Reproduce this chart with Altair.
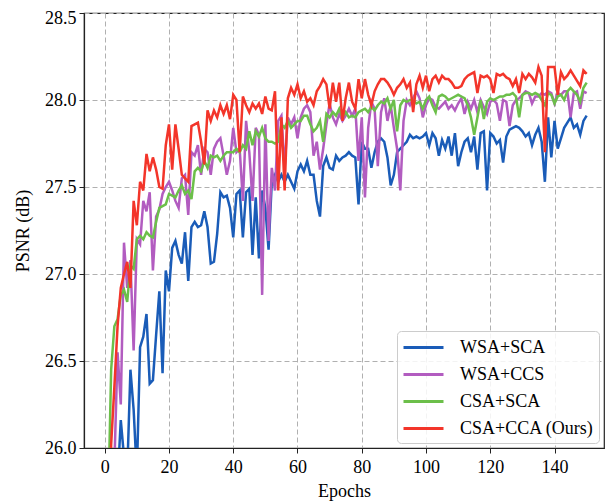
import altair as alt
import pandas as pd

epochs = list(range(1, 151))

series_names = ["WSA+SCA", "WSA+CCS", "CSA+SCA", "CSA+CCA (Ours)"]
series_colors = ["#1a5cb8", "#b25cc0", "#6cbf4a", "#f3352a"]

wsa_sca = [
    25.40, 25.55, 25.70, 25.80, 26.16, 25.95, 25.85, 26.45, 26.22, 25.85,
    26.58, 26.64, 26.77, 26.37, 26.39, 26.65, 26.90, 26.43, 27.02, 26.90,
    27.15, 27.19, 27.11, 27.06, 27.24, 26.96, 27.27, 27.30, 27.27, 27.28,
    27.36, 27.27, 27.06, 27.07, 27.23, 27.47, 27.44, 27.45, 27.38, 27.21,
    27.46, 27.48, 27.21, 27.47, 27.49, 27.11, 27.44, 27.09, 27.48, 27.38,
    27.14, 27.53, 27.57, 27.53, 27.57, 27.53, 27.57, 27.53, 27.49, 27.59,
    27.63, 27.59, 27.65, 27.57, 27.57, 27.42, 27.33, 27.62, 27.67, 27.61,
    27.60, 27.68, 27.65, 27.67, 27.68, 27.70, 27.68, 27.67, 27.40, 27.76,
    27.72, 27.72, 27.61, 27.70, 27.76, 27.78, 27.76, 27.67, 27.51, 27.57,
    27.70, 27.72, 27.74, 27.76, 27.80, 27.78, 27.79, 27.78, 27.79, 27.81,
    27.74, 27.81, 27.78, 27.68, 27.77, 27.72, 27.79, 27.68, 27.81, 27.62,
    27.70, 27.76, 27.78, 27.70, 27.79, 27.60, 27.81, 27.82, 27.48, 27.81,
    27.79, 27.75, 27.77, 27.64, 27.79, 27.83, 27.84, 27.85, 27.84, 27.82,
    27.79, 27.81, 27.74, 27.80, 27.84, 27.76, 27.53, 27.90, 27.67, 27.88,
    27.72, 27.78, 27.84, 27.87, 27.90, 27.84, 27.86, 27.80, 27.88, 27.91,
]

wsa_ccs = [
    25.30, 25.60, 25.90, 26.55, 26.25, 27.18, 26.92, 27.08, 26.56, 27.20,
    27.17, 27.42, 27.36, 27.47, 27.02, 27.33, 27.37, 27.46, 27.50, 27.53,
    27.48, 27.42, 27.38, 27.55, 27.57, 27.34, 27.70, 27.68, 27.74, 27.57,
    27.72, 27.70, 27.57, 27.72, 27.76, 27.78, 27.68, 27.57, 27.65, 27.84,
    27.70, 27.72, 27.42, 27.88, 27.70, 27.42, 27.84, 27.80, 26.88, 27.86,
    27.19, 27.61, 27.48, 27.88, 27.91, 27.61, 27.90, 27.86, 27.90, 27.78,
    27.90, 27.95, 27.97, 27.93, 27.68, 27.76, 27.60, 27.72, 27.86, 27.98,
    27.90, 27.86, 27.92, 27.88, 27.91, 27.95, 27.91, 27.95, 27.65, 27.90,
    27.44, 27.84, 27.99, 27.95, 27.62, 27.93, 28.01, 27.88, 27.97, 27.84,
    27.72, 27.48, 27.88, 28.00, 27.97, 28.01, 28.05, 28.01, 27.90, 27.97,
    28.01, 28.00, 27.96, 27.95, 27.97, 27.99, 27.95, 27.97, 27.94, 27.98,
    28.01, 27.92, 27.99, 27.95, 28.00, 27.93, 28.00, 27.96, 27.92, 27.99,
    28.00, 27.98, 27.88, 28.00, 27.99, 27.85, 27.97, 28.00, 28.01, 28.03,
    28.05, 28.04, 27.98, 28.02, 28.02, 28.04, 28.03, 28.05, 28.04, 27.98,
    28.04, 28.03, 28.05, 28.05, 27.90, 28.04, 28.05, 27.95, 28.05, 28.04,
]

csa_sca = [
    25.60, 26.45, 26.70, 26.74, 26.88, 26.91, 26.84, 27.05, 27.03, 27.20,
    27.22, 27.20, 27.24, 27.22, 27.21, 27.30, 27.38, 27.39, 27.40, 27.46,
    27.45, 27.44, 27.48, 27.51, 27.46, 27.48, 27.43, 27.59, 27.61, 27.59,
    27.65, 27.61, 27.68, 27.67, 27.68, 27.65, 27.68, 27.70, 27.70, 27.70,
    27.72, 27.70, 27.74, 27.72, 27.82, 27.74, 27.82, 27.79, 27.84, 27.78,
    27.76, 27.76, 27.75, 27.76, 27.86, 27.84, 27.88, 27.84, 27.86, 27.88,
    27.88, 27.91, 27.91, 27.86, 27.82, 27.84, 27.88, 27.76, 27.92, 27.90,
    27.93, 27.91, 27.95, 27.90, 27.93, 27.90, 27.91, 27.90, 27.93, 27.94,
    27.95, 27.93, 27.96, 27.94, 27.97, 27.99, 27.98, 28.01, 27.95, 28.00,
    27.82, 27.97, 28.00, 27.99, 28.00, 28.00, 27.98, 27.99, 27.95, 28.00,
    28.02, 27.97, 27.93, 28.02, 28.03, 28.02, 28.00, 28.01, 28.02, 28.03,
    28.02, 28.01, 27.97, 27.90, 27.80, 27.90, 28.00, 27.89, 27.99, 28.01,
    28.00, 28.01, 28.02, 28.02, 28.03, 28.03, 28.04, 28.02, 27.90, 28.03,
    28.04, 28.04, 28.03, 28.04, 28.03, 28.00, 27.97, 28.04, 28.03, 27.98,
    28.02, 28.03, 28.00, 28.05, 28.07, 28.05, 28.03, 27.99, 28.07, 28.10,
]

csa_cca = [
    25.30, 26.02, 26.35, 26.70, 26.92, 27.00, 27.07, 26.92, 27.42, 27.28,
    27.53, 27.48, 27.69, 27.59, 27.67, 27.60, 27.50, 27.49, 27.74, 27.86,
    27.60, 27.86, 27.72, 27.57, 27.55, 27.53, 27.85, 27.86, 27.87, 27.76,
    27.63, 27.94, 27.88, 27.94, 27.90, 27.97, 27.92, 27.97, 27.89, 28.03,
    28.00, 27.70, 28.02, 27.97, 27.93, 27.98, 27.95, 27.98, 27.92, 28.02,
    27.95, 27.94, 28.05, 27.48, 27.90, 27.48, 28.01, 28.07, 28.03, 28.09,
    28.01, 28.05, 27.99, 28.01, 27.97, 28.05, 28.08, 28.12, 28.09, 27.95,
    28.10, 27.99, 28.10, 27.88, 28.01, 28.10, 27.99, 27.95, 28.12, 28.01,
    28.12, 28.03, 27.97, 28.05, 28.09, 28.12, 28.12, 28.10, 28.07, 28.03,
    28.07, 28.09, 28.12, 28.07, 28.10, 27.93, 28.09, 28.14, 28.07, 28.14,
    28.05, 28.12, 28.14, 28.10, 28.14, 28.12, 28.12, 28.10, 28.07, 28.07,
    28.08, 28.12, 28.14, 28.15, 28.16, 28.04, 28.14, 28.13, 28.14, 28.12,
    28.04, 28.15, 28.14, 28.15, 28.13, 28.12, 28.08, 28.12, 28.04, 28.15,
    28.12, 28.15, 28.13, 28.10, 28.19, 28.14, 27.70, 28.19, 28.19, 28.19,
    28.03, 28.16, 28.12, 28.14, 28.17, 28.14, 28.11, 28.08, 28.17, 28.15,
]

x_ticks = [0, 20, 40, 60, 80, 100, 120, 140]
y_ticks = [26.0, 26.5, 27.0, 27.5, 28.0, 28.5]

rows = []
for name, vals in zip(series_names, [wsa_sca, wsa_ccs, csa_sca, csa_cca]):
    for i, (e, v) in enumerate(zip(epochs, vals)):
        rows.append({"Epoch": e, "PSNR": v, "Method": name, "order": i})
df = pd.DataFrame(rows)

FONT = "Liberation Serif"

chart = (
    alt.Chart(df)
    .mark_line(clip=True, strokeWidth=2.5)
    .encode(
        x=alt.X(
            "Epoch:Q",
            scale=alt.Scale(domain=[-6.45, 155.4], nice=False, zero=False),
            axis=alt.Axis(values=x_ticks, title="Epochs", format="d"),
        ),
        y=alt.Y(
            "PSNR:Q",
            scale=alt.Scale(domain=[26.0, 28.5], nice=False, zero=False),
            axis=alt.Axis(
                values=y_ticks,
                title="PSNR (dB)",
                format=".1f",
                labelOffset=alt.condition("datum.value == 28.5", alt.value(5), alt.value(0)),
            ),
        ),
        color=alt.Color(
            "Method:N",
            scale=alt.Scale(domain=series_names, range=series_colors),
            sort=series_names,
            legend=alt.Legend(
                title=None,
                orient="none",
                legendX=313,
                legendY=318,
                symbolType="M-1,0H3",
                symbolSize=400,
                symbolStrokeWidth=3,
                labelFont=FONT,
                labelFontSize=18,
                labelColor="black",
                labelOffset=35,
                rowPadding=6,
                padding=5,
                fillColor="rgba(255,255,255,0.85)",
                strokeColor="#cccccc",
                cornerRadius=4,
            ),
        ),
        order="order:Q",
    )
    .properties(
        width=520,
        height=435,
        autosize=alt.AutoSizeParams(type="none"),
        padding={"left": 76, "top": 5, "right": 2, "bottom": 54},
    )
    .configure_view(stroke="#222222", strokeWidth=1.2)
    .configure_axis(
        labelFont=FONT,
        titleFont=FONT,
        labelFontSize=18,
        titleFontSize=18,
        titleFontWeight="normal",
        labelColor="black",
        titleColor="black",
        domainColor="#222222",
        domainWidth=1.2,
        tickColor="#222222",
        tickSize=5,
        tickWidth=1,
        gridColor="#b0b0b0",
        gridDash=[5, 3],
        gridWidth=1,
    )
    .configure_axisX(titlePadding=6, labelPadding=5)
    .configure_axisY(titlePadding=12, labelPadding=3)
)

chart.save("out.html", embed_options={"renderer": "svg", "actions": False})
